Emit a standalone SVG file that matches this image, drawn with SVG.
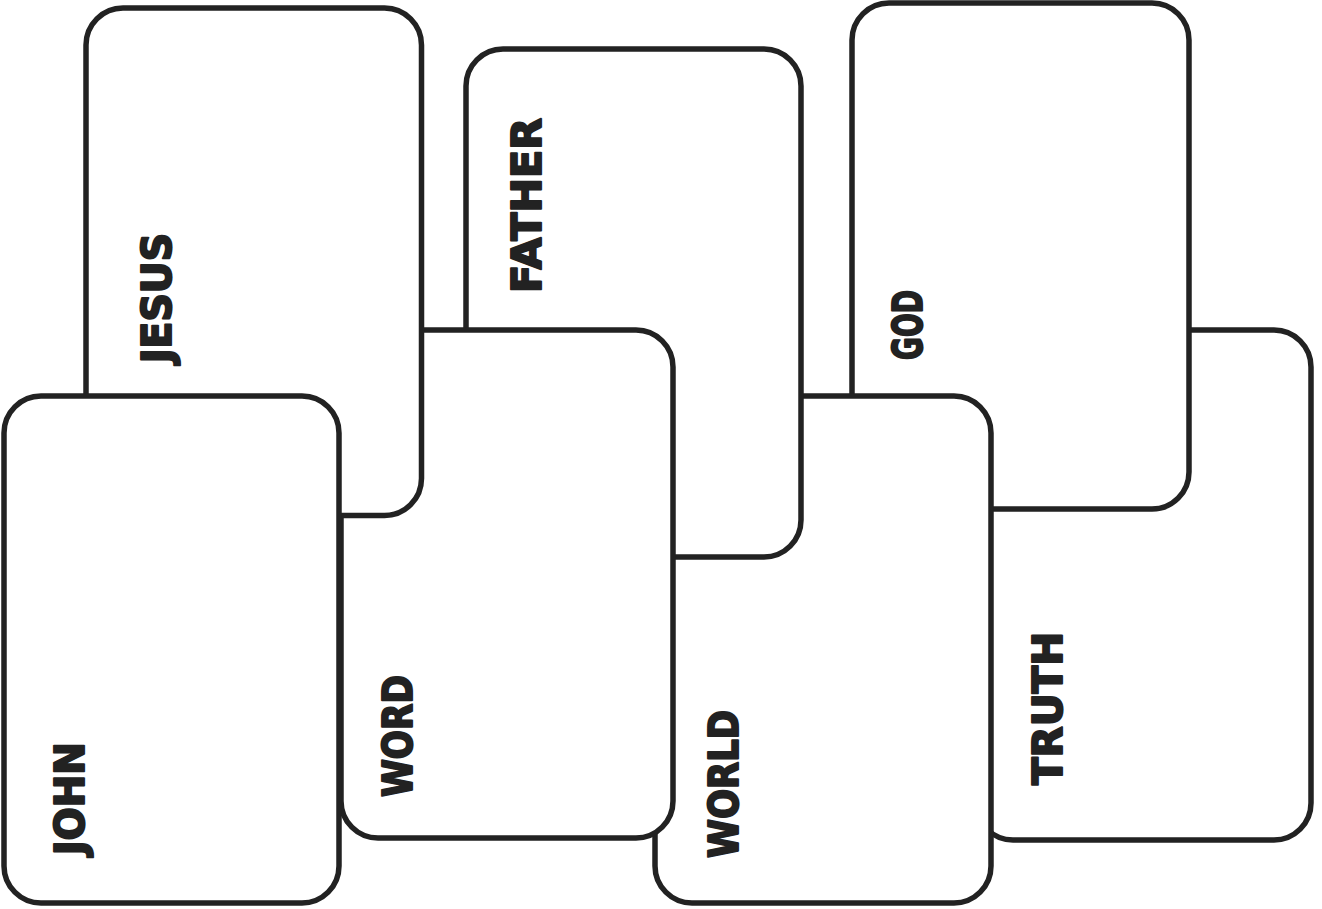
<svg xmlns="http://www.w3.org/2000/svg" width="1322" height="909" viewBox="0 0 1322 909">
<style>
.card{fill:#fff;stroke:#222;stroke-width:5.5}
.lbl{font-family:"DejaVu Sans","Liberation Sans",sans-serif;font-weight:bold;font-size:40px;fill:#222;stroke:#222;stroke-width:2;stroke-linejoin:round}
</style>
<rect width="1322" height="909" fill="#fff"/>
<g id="truth">
<rect class="card" x="976" y="330" width="335" height="510" rx="37" ry="37"/>
<text class="lbl" transform="translate(1062,785) rotate(-90)" textLength="153" lengthAdjust="spacingAndGlyphs">TRUTH</text>
</g>
<g id="god">
<rect class="card" x="852" y="3" width="337" height="506" rx="37" ry="37"/>
<text class="lbl" transform="translate(922,360) rotate(-90)" textLength="70" lengthAdjust="spacingAndGlyphs">GOD</text>
</g>
<g id="world">
<rect class="card" x="655" y="396" width="336" height="507" rx="37" ry="37"/>
<text class="lbl" transform="translate(738,858) rotate(-90)" textLength="148" lengthAdjust="spacingAndGlyphs">WORLD</text>
</g>
<g id="father">
<rect class="card" x="466" y="49" width="335" height="508" rx="37" ry="37"/>
<text class="lbl" transform="translate(541,293) rotate(-90)" textLength="175" lengthAdjust="spacingAndGlyphs">FATHER</text>
</g>
<g id="word">
<rect class="card" x="341" y="330" width="332" height="508" rx="37" ry="37"/>
<text class="lbl" transform="translate(412,797) rotate(-90)" textLength="122" lengthAdjust="spacingAndGlyphs">WORD</text>
</g>
<g id="jesus">
<rect class="card" x="86" y="8" width="335.5" height="507.5" rx="37" ry="37"/>
<text class="lbl" transform="translate(171,363) rotate(-90)" textLength="130" lengthAdjust="spacingAndGlyphs">JESUS</text>
</g>
<g id="john">
<rect class="card" x="4" y="396" width="335" height="507" rx="37" ry="37"/>
<text class="lbl" transform="translate(84,855) rotate(-90)" textLength="113" lengthAdjust="spacingAndGlyphs">JOHN</text>
</g>
</svg>
